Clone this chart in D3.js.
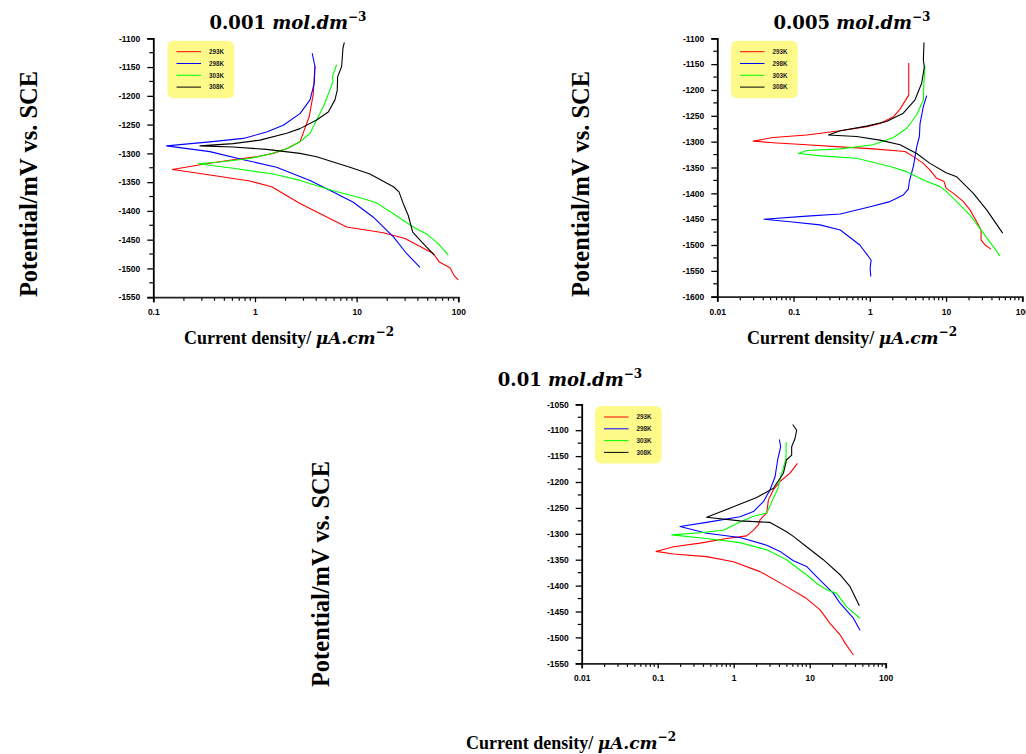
<!DOCTYPE html>
<html><head><meta charset="utf-8">
<script src="https://cdn.jsdelivr.net/npm/d3@7"></script>
<style>
body{margin:0;background:#fff;}
svg{display:block;}
</style></head>
<body>
<svg id="c" width="1026" height="754"></svg>
<script>
// ---------- DATA ----------
const seriesNames = ["293K", "298K", "303K", "308K"];
const concentrations = ["0.001", "0.005", "0.01"];
const yTicks1 = [-1550,-1500,-1450,-1400,-1350,-1300,-1250,-1200,-1150,-1100];
const yTicks2 = [-1600,-1550,-1500,-1450,-1400,-1350,-1300,-1250,-1200,-1150,-1100];
const yTicks3 = [-1550,-1500,-1450,-1400,-1350,-1300,-1250,-1200,-1150,-1100,-1050];
const xTicks1 = [0.1, 1, 10, 100];
const xTicks2 = [0.01, 0.1, 1, 10, 100];
const xTicks3 = [0.01, 0.1, 1, 10, 100];

// panel 1 : 0.001 mol/dm3  [current density µA/cm2, potential mV]
const p1_293 = [[3.89,-1148],[3.75,-1196],[3.42,-1236],[2.77,-1280],[2.05,-1292],[1.51,-1300],[1.04,-1306],[0.61,-1311],[0.31,-1319],[0.154,-1328],
  [0.288,-1335],[0.89,-1348],[1.46,-1358],[2.77,-1387],[7.98,-1428],[18.3,-1438],[29.9,-1448],[56.8,-1474],[65,-1489],[82.8,-1499],[90.6,-1512],[100,-1520]];
const p1_298 = [[3.66,-1126],[3.89,-1149],[3.83,-1178],[3.48,-1207],[2.77,-1231],[1.90,-1251],[1.30,-1263],[0.77,-1274],[0.36,-1280],[0.135,-1287],
  [0.36,-1297],[0.77,-1311],[1.63,-1324],[3.48,-1347],[5.89,-1367],[9.27,-1385],[14.6,-1411],[23,-1445],[31,-1474],[42,-1498]];
const p1_303 = [[6.35,-1146],[5.77,-1167],[5.85,-1175],[5.38,-1193],[4.70,-1219],[4.04,-1242],[3.48,-1265],[2.77,-1280],[2.05,-1292],[1.41,-1301],[0.89,-1309],[0.45,-1315],[0.277,-1318],
  [0.61,-1326],[1.51,-1336],[2.77,-1347],[5.89,-1365],[10.8,-1377],[15.7,-1386],[23,-1405],[36,-1428],[48.8,-1440],[63.5,-1457],[79.7,-1477]];
const p1_308 = [[7.57,-1107],[7.34,-1117],[7.12,-1149],[6.50,-1167],[6.45,-1190],[6.12,-1207],[5.26,-1228],[4.04,-1242],[2.77,-1257],[2.05,-1265],[1.12,-1277],[0.61,-1283],[0.288,-1287],
  [0.61,-1289],[1.30,-1293],[2.77,-1300],[4.04,-1306],[5.89,-1315],[8.59,-1324],[13.5,-1336],[23,-1358],[26.1,-1367],[28.7,-1387],[32.2,-1408],[35.6,-1437],[42,-1451],[58,-1477]];

// panel 2 : 0.005 mol/dm3
const p2_293 = [[3.24,-1148],[3.24,-1210],[2.49,-1237],[2.04,-1252],[1.36,-1265],[0.91,-1271],[0.41,-1279],[0.149,-1287],[0.054,-1292],[0.0296,-1299],
  [0.054,-1302],[0.149,-1306],[0.41,-1310],[1.11,-1314],[2.90,-1319],[3.73,-1329],[5.04,-1342],[6.16,-1355],[7.53,-1371],[9.40,-1377],[10,-1390],[12.5,-1400],[16.9,-1416],[20.6,-1432],[25.2,-1455],[28.8,-1471],[28.8,-1490],[32.5,-1500],[38.9,-1508]];
const p2_298 = [[5.57,-1211],[5.04,-1232],[4.56,-1265],[4.47,-1290],[4.12,-1310],[3.92,-1329],[3.73,-1348],[3.30,-1377],[3.20,-1392],[2.75,-1403],[1.84,-1416],[1.01,-1426],[0.41,-1440],[0.149,-1444],[0.041,-1450],
  [0.090,-1455],[0.222,-1461],[0.41,-1471],[0.74,-1500],[1.04,-1529],[1.01,-1545],[1.03,-1561]];
const p2_303 = [[5.30,-1153],[5.14,-1181],[5.04,-1219],[4.12,-1248],[3.05,-1274],[2.04,-1292],[1.11,-1306],[0.41,-1314],[0.149,-1317],[0.116,-1323],
  [0.245,-1328],[0.67,-1332],[1.84,-1348],[3.05,-1358],[5.04,-1374],[8.33,-1387],[10.2,-1397],[13.8,-1416],[20.6,-1442],[30.8,-1477],[51,-1521]];
const p2_308 = [[5.14,-1108],[5.04,-1142],[5.19,-1155],[4.79,-1187],[3.92,-1219],[2.75,-1245],[1.66,-1261],[0.91,-1270],[0.41,-1279],[0.286,-1287],
  [0.67,-1290],[1.36,-1297],[2.49,-1306],[4.12,-1323],[6.16,-1342],[10,-1360],[13.8,-1368],[22.8,-1400],[34.1,-1432],[55.3,-1477]];

// panel 3 : 0.01 mol/dm3
const p3_293 = [[6.89,-1164],[5.51,-1183],[4.07,-1199],[3.33,-1215],[2.86,-1235],[2.72,-1260],[2.46,-1266],[2.22,-1273],[2.11,-1283],[1.82,-1293],[1.48,-1304],[0.81,-1309],[0.36,-1318],[0.161,-1325],[0.095,-1334],
  [0.161,-1339],[0.44,-1344],[0.99,-1354],[2.22,-1373],[4.97,-1402],[9.1,-1425],[13.7,-1447],[18.5,-1473],[25.1,-1495],[29.2,-1511],[37.6,-1534]];
const p3_298 = [[3.99,-1118],[4.15,-1132],[3.79,-1157],[3.50,-1190],[3.01,-1215],[2.46,-1238],[1.82,-1257],[1.21,-1267],[0.44,-1278],[0.197,-1286],
  [0.44,-1299],[1.21,-1307],[2.72,-1322],[4.07,-1334],[6.10,-1352],[9.1,-1363],[12.4,-1383],[16.7,-1402],[20.5,-1415],[25.1,-1434],[37.6,-1463],[45.9,-1486]];
const p3_303 = [[4.89,-1123],[4.89,-1154],[4.15,-1190],[3.76,-1215],[3.33,-1231],[2.72,-1260],[1.82,-1266],[1.21,-1277],[0.73,-1293],[0.36,-1298],[0.153,-1302],
  [0.44,-1309],[1.21,-1317],[2.72,-1331],[4.97,-1350],[7.46,-1370],[9.1,-1379],[12.4,-1396],[16.7,-1408],[22.6,-1415],[30.7,-1441],[45.9,-1463]];
const p3_308 = [[5.97,-1089],[6.74,-1100],[6.41,-1116],[5.79,-1132],[5.79,-1148],[4.97,-1157],[4.51,-1183],[3.33,-1212],[2.01,-1230],[0.99,-1248],[0.44,-1268],
  [1.21,-1275],[3.01,-1278],[4.97,-1296],[6.10,-1305],[9.1,-1325],[15.1,-1350],[25.1,-1379],[34,-1402],[45,-1439]];

// ---------- LAYOUT / STYLE ----------
const colors = ["#ff0000", "#0000ff", "#00ff00", "#000000"];
const panels = [
  {conc: concentrations[0], series: [p1_293, p1_298, p1_303, p1_308], xDom: [0.1, 100], yDom: [-1550, -1100], xTicks: xTicks1, yTicks: yTicks1,
   x0: 153.3, x1: 458.3, yTop: 38.3, yBot: 297.2,
   title: [288, 29], ylab: [37, 184], xlab: [289, 344], legend: [167.5, 40.7]},
  {conc: concentrations[1], series: [p2_293, p2_298, p2_303, p2_308], xDom: [0.01, 100], yDom: [-1600, -1100], xTicks: xTicks2, yTicks: yTicks2,
   x0: 717.3, x1: 1022.3, yTop: 38.3, yBot: 296.7,
   title: [852, 29], ylab: [589, 184], xlab: [852, 344], legend: [731, 40.7]},
  {conc: concentrations[2], series: [p3_293, p3_298, p3_303, p3_308], xDom: [0.01, 100], yDom: [-1550, -1050], xTicks: xTicks3, yTicks: yTicks3,
   x0: 581.7, x1: 885.7, yTop: 404.3, yBot: 663.3,
   title: [570, 386], ylab: [329, 574], xlab: [571, 749], legend: [595, 406]}
];

const svg = d3.select("#c");
const fmtX = d => (d >= 1 ? d3.format("d")(d) : String(d));

panels.forEach(p => {
  const x = d3.scaleLog().domain(p.xDom).range([p.x0, p.x1]);
  const y = d3.scaleLinear().domain(p.yDom).range([p.yBot, p.yTop]);
  const g = svg.append("g");

  // minor log ticks
  const minors = [];
  for (let e = Math.log10(p.xDom[0]); e < Math.log10(p.xDom[1]); e++) {
    for (let k = 2; k <= 9; k++) minors.push(k * Math.pow(10, e));
  }
  g.append("g").selectAll("line").data(minors).join("line")
    .attr("x1", d => x(d)).attr("x2", d => x(d))
    .attr("y1", p.yBot).attr("y2", p.yBot + 3.5)
    .attr("stroke", "#000").attr("stroke-width", 1.2);

  // x axis
  const xa = d3.axisBottom(x).tickValues(p.xTicks).tickFormat(fmtX).tickSize(5).tickPadding(7);
  const gx = g.append("g").attr("transform", `translate(0,${p.yBot})`).call(xa);
  gx.select(".domain").attr("stroke", "#222").attr("stroke-width", 1.8);
  gx.selectAll(".tick line").attr("stroke-width", 1.3);
  gx.selectAll("text").attr("font-family", "Liberation Sans, Arial, sans-serif")
    .attr("font-weight", "bold").attr("font-size", 8.5).attr("fill", "#000");

  // y minor ticks
  const yMin = [];
  for (let v = p.yDom[0] + 25; v < p.yDom[1]; v += 50) yMin.push(v);
  g.append("g").selectAll("line").data(yMin).join("line")
    .attr("x1", p.x0 - 4).attr("x2", p.x0)
    .attr("y1", d => y(d)).attr("y2", d => y(d))
    .attr("stroke", "#000").attr("stroke-width", 1.2);

  const ya = d3.axisLeft(y).tickValues(p.yTicks).tickFormat(d3.format("d")).tickSize(6).tickPadding(7);
  const gy = g.append("g").attr("transform", `translate(${p.x0},0)`).call(ya);
  gy.select(".domain").attr("stroke", "#000").attr("stroke-width", 1.8);
  gy.selectAll(".tick line").attr("stroke-width", 1.3);
  gy.selectAll("text").attr("font-family", "Liberation Sans, Arial, sans-serif")
    .attr("font-weight", "bold").attr("font-size", 8.5).attr("fill", "#000");
  gy.selectAll("text").text(d => d3.format("d")(d).replace("−", "-"));
  gx.selectAll("text").text(d => fmtX(d));

  // curves
  const line = d3.line().x(d => x(d[0])).y(d => y(d[1]));
  p.series.forEach((s, i) => {
    g.append("path").datum(s).attr("d", line)
      .attr("fill", "none").attr("stroke", colors[i]).attr("stroke-width", 1.1)
      .attr("stroke-linejoin", "round");
  });

  // legend
  const lg = g.append("g").attr("transform", `translate(${p.legend[0]},${p.legend[1]})`);
  lg.append("rect").attr("width", 66.7).attr("height", 57.6).attr("rx", 6).attr("ry", 6)
    .attr("fill", "#fdfa8a");
  seriesNames.forEach((n, i) => {
    const yy = 11 + i * 11.8;
    lg.append("line").attr("x1", 9).attr("x2", 33.5).attr("y1", yy).attr("y2", yy)
      .attr("stroke", colors[i]).attr("stroke-width", 1);
    lg.append("text").attr("x", 41.5).attr("y", yy + 2.3).text(n)
      .attr("font-family", "Liberation Sans, Arial, sans-serif").attr("font-weight", "bold")
      .attr("font-size", 6.3).attr("fill", "#222");
  });

  // title
  const t = svg.append("text").attr("x", p.title[0]).attr("y", p.title[1])
    .attr("text-anchor", "middle").attr("font-family", "DejaVu Serif, serif")
    .attr("font-weight", "bold").attr("font-size", 18).attr("fill", "#000");
  t.append("tspan").text(p.conc + " ");
  t.append("tspan").attr("font-style", "italic").text("mol.dm");
  t.append("tspan").attr("font-size", 12).attr("dy", -8).text("−3");

  // y label
  svg.append("text").attr("transform", `translate(${p.ylab[0]},${p.ylab[1]}) rotate(-90)`)
    .attr("text-anchor", "middle").attr("font-family", "Liberation Serif, Times New Roman, serif")
    .attr("font-weight", "bold").attr("font-size", 24.5).attr("fill", "#000")
    .text("Potential/mV vs. SCE");

  // x label
  const xl = svg.append("text").attr("x", p.xlab[0]).attr("y", p.xlab[1])
    .attr("text-anchor", "middle").attr("font-family", "Liberation Serif, Times New Roman, serif")
    .attr("font-weight", "bold").attr("font-size", 18).attr("fill", "#000");
  xl.append("tspan").text("Current density/ ");
  xl.append("tspan").attr("font-family", "DejaVu Serif, serif").attr("font-style", "italic").attr("font-size", 17).text("μA.cm");
  xl.append("tspan").attr("font-family", "DejaVu Serif, serif").attr("font-size", 12).attr("dy", -8).text("−2");
});
</script>
</body></html>
